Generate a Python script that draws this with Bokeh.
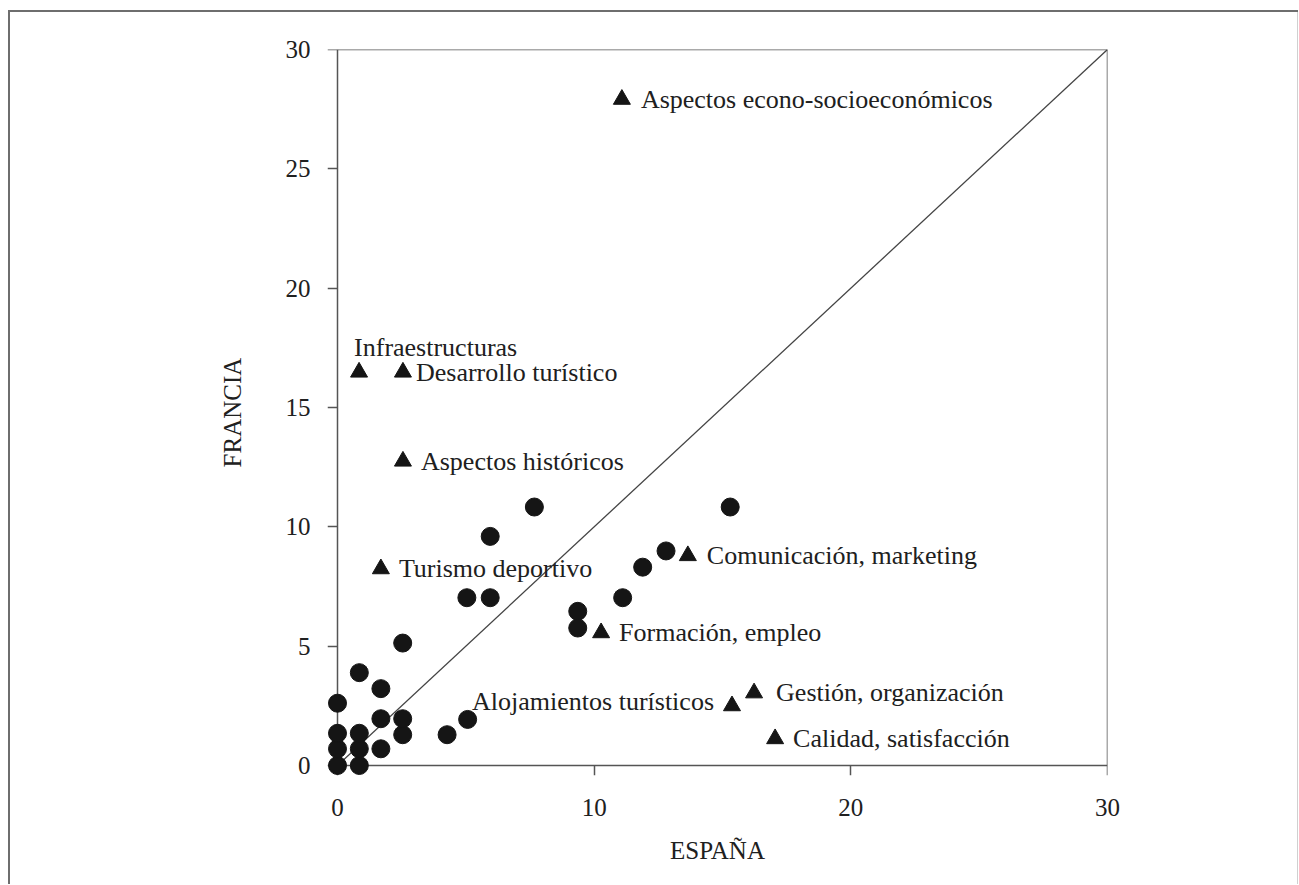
from bokeh.plotting import figure
from bokeh.models import ColumnDataSource, FixedTicker, LinearAxis
from bokeh.core.properties import value
from bokeh.embed import file_html
from bokeh.resources import INLINE

# ---- data (percentages) ----
circle_espana = [0, 0.85, 0, 0.85, 1.69, 0, 0.85, 2.54, 4.27, 1.69, 2.54, 5.07, 0,
                 1.69, 0.85, 2.54, 5.04, 5.95, 5.95, 7.67, 9.36, 9.36, 11.11, 11.89,
                 12.80, 15.30]
circle_francia = [0, 0, 0.70, 0.70, 0.70, 1.35, 1.35, 1.29, 1.29, 1.96, 1.96, 1.93, 2.61,
                  3.22, 3.89, 5.13, 7.03, 7.03, 9.60, 10.83, 6.46, 5.76, 7.03, 8.31,
                  8.99, 10.83]

tri_labels = ["Aspectos econo-socioeconómicos", "Infraestructuras", "Desarrollo turístico",
              "Aspectos históricos", "Turismo deportivo", "Comunicación, marketing",
              "Formación, empleo", "Alojamientos turísticos", "Gestión, organización",
              "Calidad, satisfacción"]
tri_espana = [11.08, 0.84, 2.55, 2.55, 1.69, 13.65, 10.27, 15.37, 16.23, 17.05]
tri_francia = [27.91, 16.48, 16.48, 12.75, 8.24, 8.79, 5.56, 2.50, 3.04, 1.12]

x_ticks = [0, 10, 20, 30]
y_ticks = [0, 5, 10, 15, 20, 25, 30]
axis_min, axis_max = 0, 30
diag = [0, 30]

# label placement (screen offsets, px)
label_dx = [19, -5, 13, 18, 18, 19, 18, -18, 22, 18]
label_dy = [0, -25, 0, 0, 0, 0, 0, -4, 0, 0]
label_align = ["left", "left", "left", "left", "left", "left", "left", "right", "left", "left"]

FONT = "Liberation Serif"
INK = "#151515"
TXT = "#202020"
LINE = "#555555"

# a little room left/below the zero lines so markers on the axes are not cut
PAD = 10
FW, FH = 770, 716
x_start = -axis_max * PAD / FW
y_start = -axis_max * PAD / FH

p = figure(frame_width=FW + PAD, frame_height=FH + PAD,
           min_border_left=327, min_border_right=191, min_border_top=49, min_border_bottom=109,
           x_range=(x_start, axis_max), y_range=(y_start, axis_max),
           x_axis_location=None, y_axis_location=None,
           output_backend="svg", toolbar_location=None)
p.background_fill_color = "white"
p.border_fill_color = None
p.outline_line_color = None
p.grid.visible = False
# outer page frame (left/top dark, right faint)
p.styles = {"box-shadow": "inset 8px 10px 0 0 #ffffff, inset 10px 12px 0 0 #6e6e6e, "
                          "inset -1px 0 0 0 #d0d0d0"}


def label_axis(ticks, title, tick_standoff, title_standoff):
    """Axis at the frame edge that carries only tick labels and the title."""
    ax = LinearAxis(ticker=FixedTicker(ticks=ticks), axis_label=title)
    ax.axis_line_color = None
    ax.major_tick_line_color = None
    ax.minor_tick_line_color = None
    ax.major_tick_in = 0
    ax.major_tick_out = 0
    ax.major_label_standoff = tick_standoff
    ax.major_label_text_font = FONT
    ax.major_label_text_font_size = "25px"
    ax.major_label_text_color = TXT
    ax.axis_label_standoff = title_standoff
    ax.axis_label_text_font = FONT
    ax.axis_label_text_font_size = "25px"
    ax.axis_label_text_font_style = "normal"
    ax.axis_label_text_color = TXT
    return ax


def line_axis(ticks, fixed=None, tick_len=0):
    """Axis line (with inward ticks) drawn at a data location or the frame edge."""
    ax = LinearAxis(ticker=FixedTicker(ticks=ticks), fixed_location=fixed, level="underlay")
    ax.axis_line_color = LINE
    ax.axis_line_width = 1.5
    ax.major_tick_line_color = LINE if tick_len else None
    ax.major_tick_line_width = 1.5
    ax.major_tick_in = tick_len
    ax.major_tick_out = 0
    ax.minor_tick_line_color = None
    ax.major_label_text_font_size = "0px"
    ax.major_label_text_color = None
    ax.major_label_standoff = 0
    ax.bounds = (axis_min, axis_max)
    return ax


# tick labels + titles (frame edges sit PAD px outside the zero lines)
p.add_layout(label_axis(x_ticks, "ESPAÑA", 23, 18), "below")
p.add_layout(label_axis(y_ticks, "FRANCIA", 17, 37), "left")

# closing lines of the box (top and right frame edges)
p.add_layout(line_axis([]), "above")
p.add_layout(line_axis([]), "right")

# axis lines at zero with ticks pointing outwards (down / left)
p.add_layout(line_axis(x_ticks, fixed=0, tick_len=10), "above")
p.add_layout(line_axis(y_ticks, fixed=0, tick_len=10), "right")

# diagonal
p.line(diag, diag, line_color="#444444", line_width=1.3)

# circles
p.scatter(circle_espana, circle_francia, marker="circle", size=18,
          fill_color=INK, line_color=INK)

# triangles with labels
src = ColumnDataSource(dict(x=tri_espana, y=tri_francia, label=tri_labels,
                            dx=label_dx, dy=label_dy, align=label_align))
p.scatter("x", "y", source=src, marker="triangle", size=17,
          fill_color=INK, line_color=INK)
p.text("x", "y", text="label", source=src, x_offset="dx", y_offset="dy",
       text_align="align", text_baseline="middle",
       text_font=value(FONT), text_font_size="26px", text_color=TXT)

open("out.html", "w").write(file_html(p, INLINE))
